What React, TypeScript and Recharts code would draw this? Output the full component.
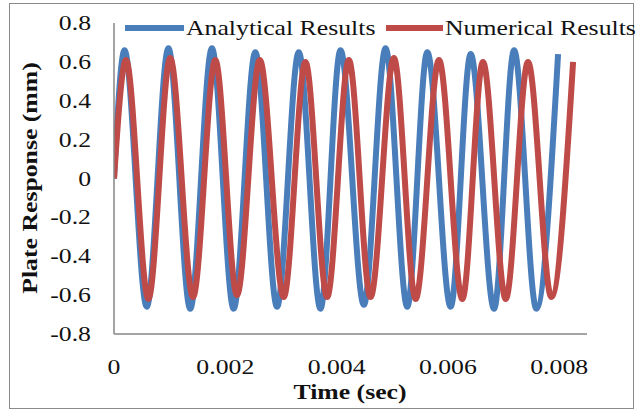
import React from "react";
import { LineChart, Line, XAxis, YAxis, Legend } from "recharts";

const analyticalTime = [0, 0.000189, 0.000589, 0.000978, 0.00137, 0.00176, 0.00215, 0.00254, 0.00293, 0.00332, 0.00371, 0.00407, 0.00449, 0.00488, 0.00527, 0.00563, 0.00605, 0.00641, 0.00683, 0.00719, 0.00759, 0.00798];
const analyticalValues = [0, 0.66, -0.66, 0.67, -0.67, 0.67, -0.67, 0.65, -0.66, 0.65, -0.67, 0.66, -0.65, 0.67, -0.66, 0.65, -0.66, 0.64, -0.67, 0.66, -0.67, 0.64];

const numericalTime = [0, 0.000216, 0.000618, 0.00101, 0.00142, 0.00182, 0.00221, 0.00262, 0.00305, 0.00344, 0.00383, 0.00422, 0.00461, 0.00503, 0.00542, 0.00584, 0.00626, 0.00663, 0.00704, 0.00744, 0.00786, 0.00825];
const numericalValues = [0, 0.61, -0.62, 0.62, -0.61, 0.61, -0.6, 0.61, -0.61, 0.6, -0.61, 0.61, -0.61, 0.62, -0.62, 0.61, -0.62, 0.6, -0.62, 0.6, -0.61, 0.6];

const xTicks = [0, 0.002, 0.004, 0.006, 0.008];
const xTickLabels = ["0", "0.002", "0.004", "0.006", "0.008"];
const yTicks = [-0.8, -0.6, -0.4, -0.2, 0, 0.2, 0.4, 0.6, 0.8];
const yTickLabels = ["-0.8", "-0.6", "-0.4", "-0.2", "0", "0.2", "0.4", "0.6", "0.8"];

const seriesNames = ["Analytical Results", "Numerical Results"];
const BLUE = "#4a7ebb";
const RED = "#be4b48";
const FONT = "'Liberation Serif', 'Times New Roman', Times, Tinos, 'DejaVu Serif', 'Noto Serif', serif";
const SX = 1.17;

const textStyle = (bold?: boolean): React.CSSProperties => ({
  fontFamily: FONT,
  fontSize: 22,
  fontWeight: bold ? 700 : 400,
  fill: "#111",
});

const analyticalData = analyticalTime.map((t, i) => ({ t, v: analyticalValues[i] }));
const numericalData = numericalTime.map((t, i) => ({ t, v: numericalValues[i] }));

const XTick = (props: any) => {
  const { x, payload } = props;
  const idx = xTicks.indexOf(payload.value);
  const label = idx >= 0 ? xTickLabels[idx] : String(payload.value);
  return (
    <text transform={`translate(${x},374) scale(${SX},1)`} textAnchor="middle" fontFamily={FONT} style={textStyle()}>
      {label}
    </text>
  );
};

const YTick = (props: any) => {
  const { y, payload } = props;
  const idx = yTicks.indexOf(payload.value);
  const label = idx >= 0 ? yTickLabels[idx] : String(payload.value);
  return (
    <text transform={`translate(91,${y + 7}) scale(${SX},1)`} textAnchor="end" fontFamily={FONT} style={textStyle()}>
      {label}
    </text>
  );
};

const LegendContent = () => (
  <svg width={637} height={40} style={{ display: "block" }}>
    <line x1={125} x2={184} y1={20} y2={20} stroke={BLUE} strokeWidth={6} />
    <text transform={`translate(186,27) scale(${SX},1)`} fontFamily={FONT} style={textStyle()}>
      {seriesNames[0]}
    </text>
    <line x1={386} x2={443} y1={20} y2={20} stroke={RED} strokeWidth={6} />
    <text transform={`translate(445,27) scale(${SX},1)`} fontFamily={FONT} style={textStyle()}>
      {seriesNames[1]}
    </text>
  </svg>
);

export default function App() {
  return (
    <div
      style={{
        position: "absolute",
        left: 0,
        top: 0,
        width: 637,
        height: 413,
        background: "#fff",
        fontFamily: FONT,
      }}
    >
      <div
        style={{
          position: "absolute",
          left: 9,
          top: 3,
          width: 625,
          height: 406,
          border: "1.5px solid #8a8a8a",
          boxSizing: "border-box",
        }}
      />
      <LineChart
        width={637}
        height={413}
        margin={{ top: 23, right: 50, left: 0, bottom: 0 }}
        style={{ position: "absolute", left: 0, top: 0, fontFamily: FONT }}
      >
        <XAxis
          type="number"
          dataKey="t"
          domain={[0, 0.0085]}
          ticks={xTicks}
          allowDataOverflow
          height={79}
          stroke="#868686"
          strokeWidth={1.5}
          tickLine={false}
          tick={<XTick />}
        />
        <YAxis
          type="number"
          dataKey="v"
          domain={[-0.8, 0.8]}
          ticks={yTicks}
          width={114}
          stroke="#868686"
          strokeWidth={1.5}
          tickLine={false}
          tick={<YTick />}
        />
        <Legend
          layout="horizontal"
          verticalAlign="middle"
          align="center"
          wrapperStyle={{ top: 8, left: 0, width: 637, height: 40 }}
          content={<LegendContent />}
        />
        <Line
          data={analyticalData}
          dataKey="v"
          name={seriesNames[0]}
          type="monotone"
          stroke={BLUE}
          strokeWidth={6}
          dot={false}
          activeDot={false}
          isAnimationActive={false}
        />
        <Line
          data={numericalData}
          dataKey="v"
          name={seriesNames[1]}
          type="monotone"
          stroke={RED}
          strokeWidth={6}
          dot={false}
          activeDot={false}
          isAnimationActive={false}
        />
      </LineChart>
      <svg width={637} height={413} style={{ position: "absolute", left: 0, top: 0, pointerEvents: "none" }}>
        <text transform={`translate(350,399) scale(${SX},1)`} textAnchor="middle" fontFamily={FONT} style={textStyle(true)}>
          Time (sec)
        </text>
        <text
          transform={`translate(37,178) rotate(-90) scale(${SX},1)`}
          textAnchor="middle"
          fontFamily={FONT}
          style={textStyle(true)}
        >
          Plate Response (mm)
        </text>
      </svg>
    </div>
  );
}
